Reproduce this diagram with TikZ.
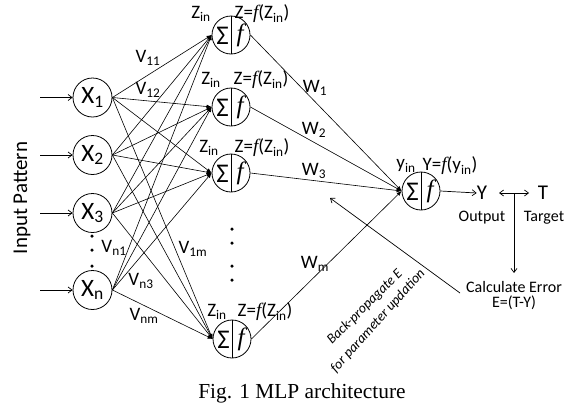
\documentclass[tikz,border=0pt]{standalone}
\usepackage{fontspec}
\setmainfont{Carlito}
\newfontfamily\capfont{Liberation Serif}
\newfontfamily\ffamily{Liberation Serif}
\usetikzlibrary{arrows.meta}
\newcommand\fsz[1]{\fontsize{#1}{#1}\selectfont}
\newcommand\ff{{\ffamily\itshape f}}
\newcommand\sbs[1]{\textsubscript{#1}}
\tikzset{
  inp/.style={circle,draw,line width=0.8pt,minimum size=39pt,inner sep=0pt,font=\fsz{25}},
  hid/.style={circle,draw,line width=0.8pt,minimum size=38pt,inner sep=0pt},
  sig/.style={inner sep=0pt,font=\fsz{27}},
  fn/.style={inner sep=0pt,font=\fsz{25}},
  lbl/.style={inner sep=0pt,font=\fsz{19}},
  small/.style={inner sep=0pt,font=\fsz{16}},
  conn/.style={-{Latex[length=5pt,width=4pt]},line width=0.6pt},
  barb/.style={-{Straight Barb[length=4pt,width=6pt]},line width=0.7pt},
  dbarb/.style={{Straight Barb[length=4pt,width=6pt]}-{Straight Barb[length=4pt,width=6pt]},line width=0.7pt},
  dotn/.style={circle,fill,inner sep=0pt,minimum size=3.5pt}
}
\newcommand\hnode[2]{%
  \node[hid] (#1) at (#2) {};
  \draw[line width=0.8pt] (#1.north) -- (#1.south);
  \node[sig] (#1s) at ([xshift=-8.5pt,yshift=-0.5pt]#1.center) {Σ};
  \node[fn] (#1f) at ([xshift=9pt]#1.center) {\ff};}
\begin{document}
\begin{tikzpicture}[x=1pt,y=-1pt]
\useasboundingbox (0,0) rectangle (567,410);
% input nodes
\node[inp] (x1) at (92.5,97.5) {X\sbs{1}};
\node[inp] (x2) at (92.5,155) {X\sbs{2}};
\node[inp] (x3) at (92.5,213) {X\sbs{3}};
\node[inp] (xn) at (92.5,290) {X\sbs{n}};
\foreach \n/\y in {x1/97.5,x2/155,x3/213,xn/290}{
  \coordinate (a\n) at (40,\y);
  \draw[barb] (a\n) -- (\n.west);
}
\node[rotate=90,font=\fsz{21},inner sep=0pt] (ip) at (22,198) {Input Pattern};
\node[dotn] (d1) at (92,236) {};
\node[dotn] (d2) at (92,250) {};
\node[dotn] (d3) at (92,266) {};
% hidden nodes
\hnode{h1}{231,35}
\hnode{h2}{231,107}
\hnode{h3}{231,173}
\hnode{hm}{232,339}
\node[dotn] (e1) at (232,229) {};
\node[dotn] (e2) at (232,243) {};
\node[dotn] (e3) at (232,266) {};
\node[dotn] (e4) at (232,280) {};
% input -> hidden
\foreach \i in {x1,x2,x3,xn}{
  \foreach \h in {h1,h2,h3,hm}{
    \draw[conn] (\i.east) -- (\h.west);
  }
}
% labels V
\node[lbl] (v11) at (148,58) {V\sbs{11}};
\node[lbl] (v12) at (148,90) {V\sbs{12}};
\node[lbl] (vn1) at (114,248) {V\sbs{n1}};
\node[lbl] (v1m) at (193,249) {V\sbs{1m}};
\node[lbl] (vn3) at (141,281) {V\sbs{n3}};
\node[lbl] (vnm) at (144,316) {V\sbs{nm}};
% Z labels
\node[lbl] (z1) at (201,14) {Z\sbs{in}};
\node[lbl] (zf1) at (262,14) {Z=\ff(Z\sbs{in})};
\node[lbl] (z2) at (211,80) {Z\sbs{in}};
\node[lbl] (zf2) at (261,80) {Z=\ff(Z\sbs{in})};
\node[lbl] (z3) at (209,148) {Z\sbs{in}};
\node[lbl] (zf3) at (262,148) {Z=\ff(Z\sbs{in})};
\node[lbl] (zm) at (217,312) {Z\sbs{in}};
\node[lbl] (zfm) at (265,312) {Z=\ff(Z\sbs{in})};
% output node
\hnode{o}{421,191}
\foreach \h in {h1,h2,h3,hm}{
  \draw[conn] (\h.east) -- (o.west);
}
\node[lbl] (w1) at (315,88) {W\sbs{1}};
\node[lbl] (w2) at (314,130) {W\sbs{2}};
\node[lbl] (w3) at (314,171) {W\sbs{3}};
\node[lbl] (wm) at (315,264) {W\sbs{m}};
\node[lbl] (yin) at (406,166) {y\sbs{in}};
\node[lbl] (yf) at (450,166) {Y=\ff(y\sbs{in})};
% output / target
\node[lbl,font=\fsz{21}] (Y) at (482,193) {Y};
\node[lbl,font=\fsz{21}] (T) at (543,193) {T};
\draw[barb] (o.east) -- (Y.west);
\coordinate (dl) at (499,193);
\coordinate (dr) at (529,193);
\draw[dbarb] (dl) -- (dr);
\coordinate (vt) at (514,193);
\coordinate (vb) at (514,273);
\draw[barb] (vt) -- (vb);
\node[small] (outl) at (482,218) {Output};
\node[small] (tarl) at (544,218) {Target};
\node[small] (ce) at (514,287) {Calculate Error};
\node[small] (ee) at (514,303) {E=(T-Y)};
% back-propagation
\coordinate (bs) at (460,293);
\coordinate (be) at (330,198);
\draw[barb] (bs) -- (be);
\node[rotate=45,font=\fsz{14}\itshape,inner sep=0pt] (bp1) at (365,307) {Back-propagate E};
\node[rotate=48,font=\fsz{14}\itshape,inner sep=0pt] (bp2) at (378,321) {for parameter updation};
% caption
\node[font=\capfont\fsz{21.4},inner sep=0pt] (cap) at (302,393) {Fig. 1 MLP architecture};
\end{tikzpicture}
\end{document}
